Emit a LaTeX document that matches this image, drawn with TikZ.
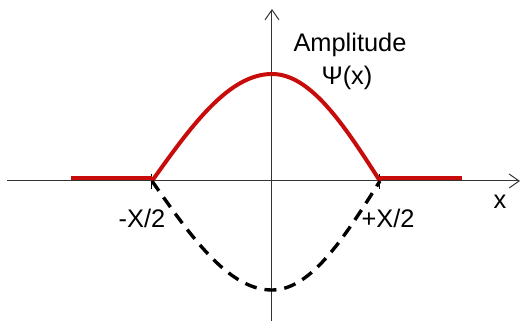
\documentclass[tikz,border=0pt]{standalone}
\usepackage{fontspec}
\setmainfont{Liberation Sans}
\usepackage{xcolor}
\usetikzlibrary{arrows.meta}
\definecolor{wavered}{RGB}{200,12,12}

\begin{document}
\begin{tikzpicture}[x=0.5pt, y=0.5pt, font=\fontsize{12.7}{15}\selectfont]
        \useasboundingbox (-272,-140) rectangle (249,181);

        % Ejes
        \coordinate (xmin) at (-265,0);
        \coordinate (xmax) at (248,0);
        \coordinate (ymin) at (0,-140);
        \coordinate (ymax) at (0,172);
        \draw[line width=0.5pt, draw=black!80, -{Straight Barb[length=5pt,width=7pt]}] (xmin) -- (xmax);
        \draw[line width=0.5pt, draw=black!80, -{Straight Barb[length=5pt,width=7pt]}] (ymin) -- (ymax);

        % Marcas en -X/2 y +X/2
        \foreach \x in {-120, 108} {
            \draw[line width=0.5pt] (\x,7) -- (\x,-8);
        }

        % Onda fuera del pozo
        \draw[wavered, line width=2pt] (-201,3) -- (-120,3);
        \draw[wavered, line width=2pt] (108,3) -- (190,3);

        % Onda dentro del pozo
        \draw[wavered, line width=2pt, line join=round]
            plot[domain=-120:0, samples=40, smooth] (\x, {107*cos(\x*90/120)})
            -- plot[domain=0:108, samples=40, smooth] (\x, {107*cos(\x*90/108)});
        \draw[black, line width=1.7pt, dash pattern=on 6pt off 4pt]
            plot[domain=-120:0, samples=40, smooth] (\x, {-109*cos(\x*90/120)})
            -- plot[domain=0:108, samples=40, smooth] (\x, {-109*cos(\x*90/108)});

        % Etiquetas
        \node (lminus) at (-130,-37) {-X/2};
        \node (lplus) at (116,-37) {+X/2};
        \node (xlab) at (228,-21) {x};
        \node (amp) at (78,136) {Amplitude};
        \node (psi) at (75,103) {Ψ(x)};

\end{tikzpicture}
\end{document}
